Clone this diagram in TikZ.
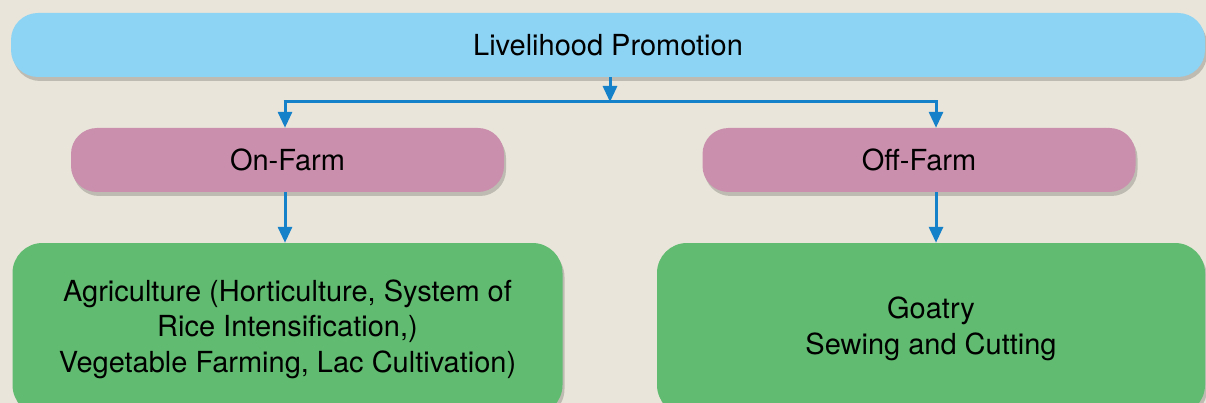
\documentclass[tikz,border=0pt]{standalone}
\usepackage{fontspec}
\setmainfont{TeX Gyre Heros}
\usepackage{xcolor}
\usetikzlibrary{
    calc,
    arrows.meta,
    shadows
}
\definecolor{bgbeige}{HTML}{E9E5DA}
\definecolor{headblue}{HTML}{8DD3F4}
\definecolor{midpink}{HTML}{CA8FAD}
\definecolor{leafgreen}{HTML}{61BB70}
\definecolor{flowblue}{HTML}{1581C9}
\tikzset{
    boxbase/.style={rectangle, align=center, inner sep=0pt,
        font=\fontsize{29}{35.5}\selectfont,
        drop shadow={shadow xshift=2pt, shadow yshift=-4pt, opacity=0.18, fill=black}},
    headbox/.style={boxbase, fill=headblue, rounded corners=27pt,
        minimum width=1194pt, minimum height=64pt},
    midbox/.style={boxbase, fill=midpink, rounded corners=26pt,
        minimum width=433pt, minimum height=64pt},
    leafbox/.style={boxbase, fill=leafgreen, rounded corners=30pt,
        minimum width=550pt, minimum height=172pt},
    link/.style={draw=flowblue, line width=3pt},
    flow/.style={link, -{Triangle[width=14pt,length=16pt]}}
}
\begin{document}
\begin{tikzpicture}[x=1pt, y=-1pt]
        \useasboundingbox (0,0) rectangle (1206,403);
        \fill[bgbeige] (0,0) rectangle (1206,403);

        \draw (608,45) node[headbox](lp){Livelihood Promotion};

        \draw (287.5,160) node[midbox](onfarm){On-Farm};
        \draw (919,160) node[midbox](offfarm){Off-Farm};

        \draw (287.5,329) node[leafbox](agri){Agriculture (Horticulture, System of\\Rice Intensification,)\\Vegetable Farming, Lac Cultivation)};
        \draw (931,329) node[leafbox, minimum width=548pt](goat){Goatry\\Sewing and Cutting};

        % split line under the head box
        \coordinate (split) at (610,102);
        \coordinate (lsplit) at (285,102);
        \coordinate (rsplit) at (936,102);

        \draw[flow] (lp.south -| split) to (split);
        \draw[link] ([xshift=-1.5pt]lsplit) to ([xshift=1.5pt]rsplit);
        \draw[flow] (lsplit) to (lsplit |- onfarm.north);
        \draw[flow] (rsplit) to (rsplit |- offfarm.north);

        \draw[flow] (onfarm.south -| lsplit) to (agri.north -| lsplit);
        \draw[flow] (offfarm.south -| rsplit) to (goat.north -| rsplit);
    \end{tikzpicture}
\end{document}
